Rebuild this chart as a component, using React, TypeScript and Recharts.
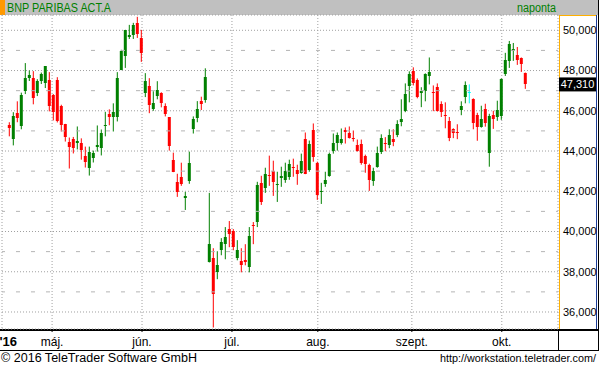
import React from "react";
import { Bar, CartesianGrid, ComposedChart, ReferenceLine, XAxis, YAxis } from "recharts";

// daily candles, 14 Apr 2016 .. 14 Oct 2016
const opens = [
  45.27, 44.58, 45.87, 45.23, 46.97, 47.62, 47.62, 46.87, 47.47, 47.37, 47.52, 46.77,
  47.52, 46.23, 45.32, 44.43, 44.62, 44.42, 44.42, 43.77, 43.18, 43.63, 44.22, 44.13,
  45.23, 45.82, 45.68, 45.68, 48.05, 48.73, 49.67, 49.77, 50.37, 49.62,
  46.87, 47.22, 46.07, 46.72, 46.87, 46.22, 45.67, 43.57, 42.47, 42.72, 41.67, 42.52,
  45.07, 45.62, 46.5, 46.54, 38.48, 38.67, 37.98, 39.07, 39.37, 40.12,
  40.02, 38.67, 38.52, 38.57, 38.22, 40.32, 40.47, 42.42, 42.17, 42.82, 43.02, 42.32,
  42.67, 42.57, 42.72, 43.22, 43.07, 42.92, 44.62, 43.07, 45.02,
  43.42, 42.0, 42.37, 42.77, 44.02, 44.42, 44.42, 45.02, 44.92, 44.67, 44.32, 44.37,
  43.77, 43.32, 42.52, 43.22, 43.94, 44.39, 44.29, 44.59, 44.79, 45.43, 45.98,
  47.21, 47.96, 47.51, 46.87, 46.97, 47.71, 46.92, 47.17, 46.32, 45.78, 45.49, 45.08,
  44.93, 46.02, 46.67, 46.92, 46.57, 45.8, 45.21, 46.1, 43.92, 45.8,
  45.7, 45.75, 47.83, 48.48, 48.98, 48.78, 48.63, 47.88
];
const highs = [
  45.43, 45.93, 46.47, 46.9, 48.37, 48.0, 47.97, 47.57, 47.9, 48.22, 47.92, 46.83,
  47.67, 46.3, 45.35, 44.67, 44.7, 45.22, 44.63, 44.22, 44.22, 44.02, 45.27, 45.07,
  45.95, 46.07, 46.37, 47.92, 49.03, 50.02, 50.27, 50.37, 50.67, 50.02,
  47.87, 47.62, 46.97, 47.47, 46.92, 46.37, 45.69, 43.92, 42.87, 43.42, 41.97, 43.97,
  45.72, 46.48, 46.7, 48.11, 41.92, 39.17, 39.02, 39.67, 40.22, 40.52,
  40.12, 39.57, 39.17, 39.37, 40.22, 40.47, 42.47, 42.77, 43.17, 43.77, 43.52, 42.97,
  43.22, 43.42, 43.57, 43.62, 43.32, 43.87, 44.92, 44.52, 45.37,
  43.47, 42.42, 42.97, 43.92, 44.87, 44.92, 45.12, 45.17, 45.22, 45.02, 44.57, 44.57,
  43.82, 43.37, 43.17, 44.22, 44.83, 44.69, 45.08, 45.08, 45.53, 46.57, 47.36,
  47.96, 48.16, 47.61, 47.17, 47.86, 48.65, 47.26, 47.36, 46.47, 46.42, 45.69, 45.13,
  45.33, 46.47, 47.46, 47.31, 46.62, 45.9, 46.25, 46.35, 45.85, 46.0,
  46.5, 47.61, 48.88, 49.47, 49.37, 49.17, 48.65, 47.9
];
const lows = [
  44.73, 44.28, 45.43, 45.08, 46.83, 47.48, 46.32, 46.73, 47.33, 47.13, 45.97, 45.52,
  45.42, 44.97, 44.47, 43.13, 43.88, 44.08, 43.57, 43.18, 42.78, 43.43, 43.97, 43.78,
  44.73, 45.28, 44.97, 45.47, 48.02, 48.13, 49.57, 49.57, 49.62, 48.43,
  46.68, 45.88, 46.0, 46.57, 46.17, 45.72, 44.02, 42.95, 41.72, 42.27, 41.07, 42.37,
  44.87, 45.43, 46.04, 46.4, 38.46, 35.23, 37.63, 38.82, 38.62, 39.22,
  39.07, 38.57, 37.97, 38.32, 37.97, 39.37, 40.22, 41.32, 41.92, 42.27, 41.77, 41.47,
  42.22, 42.42, 42.57, 42.72, 42.32, 42.87, 42.85, 42.97, 43.47,
  41.57, 41.37, 42.22, 42.72, 43.87, 44.02, 44.32, 44.37, 44.62, 44.47, 43.97, 43.32,
  42.92, 42.02, 42.27, 43.17, 43.85, 43.99, 44.14, 44.24, 44.69, 45.23, 45.93,
  46.42, 47.26, 46.62, 46.18, 46.47, 47.31, 45.98, 45.96, 45.69, 45.13, 44.49, 44.64,
  44.59, 45.78, 46.37, 46.37, 45.08, 44.51, 45.16, 45.21, 43.22, 45.1,
  45.5, 45.55, 47.73, 48.13, 48.48, 48.28, 47.93, 47.09
];
const closes = [
  45.13, 45.72, 45.63, 46.77, 47.62, 47.77, 46.63, 47.48, 47.85, 48.22, 46.23, 45.93,
  45.47, 45.28, 44.68, 44.22, 44.13, 44.52, 44.07, 43.43, 43.97, 43.88, 44.28, 44.92,
  45.27, 45.68, 45.93, 47.62, 48.98, 50.02, 49.77, 50.27, 49.82, 48.88,
  47.47, 46.27, 46.37, 47.02, 46.37, 45.82, 44.27, 42.97, 41.97, 42.37, 41.77, 43.42,
  45.57, 46.07, 46.34, 47.68, 39.37, 36.88, 38.32, 39.47, 39.72, 39.87,
  39.22, 39.07, 38.32, 38.47, 39.77, 40.27, 42.32, 41.47, 42.87, 42.77, 42.47, 42.37,
  42.77, 43.02, 43.37, 43.17, 42.87, 43.52, 42.87, 44.37, 43.72,
  41.82, 42.02, 42.57, 43.87, 44.42, 44.82, 44.62, 44.97, 44.67, 44.62, 44.02, 43.42,
  43.37, 42.57, 43.02, 43.92, 44.64, 44.34, 44.79, 44.44, 45.33, 45.58, 46.82,
  47.81, 47.36, 46.67, 46.97, 47.81, 47.91, 46.87, 45.98, 45.93, 45.73, 44.64, 44.88,
  44.9, 46.22, 47.26, 46.92, 45.38, 45.21, 45.6, 45.4, 45.75, 45.6,
  46.05, 47.59, 48.53, 49.32, 49.07, 48.53, 48.33, 47.31
];
const emptyDays = 7;

const monthTicks = [12.25, 34.25, 56.25, 77.25, 100.25, 122.25];
const monthLabels = ["máj.", "jún.", "júl.", "aug.", "szept.", "okt."];
const yearTick = -0.875;
const yearLabel = "'16";
const priceTicks = [36, 38, 40, 42, 44, 46, 48, 50];
const minorLines = [37, 39, 41, 43, 45, 47, 49];
const smallTicks = Array.from({ length: 63 }, (_, k) => 35.25 + k * 0.25);

const GREEN = "#008000";
const RED = "#ff0000";
const CYAN = "#00ffff";
const font = "'Liberation Sans', Arial, sans-serif";

const data = [
  ...opens.map((o, i) => ({ day: i + 1, open: o, high: highs[i], low: lows[i], close: closes[i], range: [lows[i], highs[i]] })),
  ...Array.from({ length: emptyDays }, (_, k) => ({ day: opens.length + k + 1 }))
];

const fmt = (v: number) => v.toFixed(3).replace(".", ",");

function Candle(props: any) {
  const { x, y, width, height, payload } = props;
  if (!payload || payload.open == null || !isFinite(y) || !isFinite(height)) return <g />;
  const { open, close, high, low } = payload;
  const ppv = height / (high - low);
  const cx = x + width / 2;
  const yOf = (v: number) => y + (high - v) * ppv;
  const top = Math.round(yOf(Math.max(open, close)));
  const bottom = Math.round(yOf(Math.min(open, close)));
  const color = close > open ? GREEN : close < open ? RED : CYAN;
  return (
    <g>
      <line x1={cx} x2={cx} y1={y} y2={y + height} stroke={color} strokeWidth={1} />
      <rect x={cx - 1.5} y={top} width={3} height={Math.max(1, bottom - top)} fill={color} />
    </g>
  );
}

function MonthTick(props: any) {
  const { x, y, payload } = props;
  if (payload.value === yearTick) {
    return (
      <text x={x + 1} y={y} dy="0.71em" textAnchor="start" fontSize={13} fontWeight="bold" fontFamily={font} fill="#000">
        {yearLabel}
      </text>
    );
  }
  const idx = monthTicks.indexOf(payload.value);
  return (
    <text x={x} y={y} dy="0.71em" textAnchor="middle" fontSize={12} fontFamily={font} fill="#000">
      {monthLabels[idx]}
    </text>
  );
}

function LastPrice(props: any) {
  const vb = props.viewBox;
  if (!vb) return null;
  const x = vb.x + vb.width + 1;
  const y = vb.y;
  return (
    <g>
      <rect x={x} y={y - 7} width={37} height={14} fill="#000" />
      <text x={x + 18.5} y={y} dy="0.36em" textAnchor="middle" fontSize={11} fontFamily={font} fill="#fff">
        {fmt(closes[closes.length - 1])}
      </text>
    </g>
  );
}

function Frame() {
  return (
    <svg width={599} height={368} style={{ position: "absolute", left: 0, top: 0 }}>
      <rect x={0} y={0} width={599} height={15} fill="#c0c0c0" />
      <rect x={0} y={0} width={5} height={15} fill="#ff9900" />
      <text x={7} y={12} fontSize={12} fontFamily={font} fill={GREEN} textLength={104} lengthAdjust="spacingAndGlyphs">
        BNP PARIBAS ACT.A
      </text>
      <text x={517} y={12} fontSize={12} fontFamily={font} fill={GREEN} textLength={39} lengthAdjust="spacingAndGlyphs">
        naponta
      </text>
      <line x1={559.5} x2={559.5} y1={15} y2={329} stroke="#ffb000" />
      <line x1={559} x2={597} y1={15.5} y2={15.5} stroke="#ffb000" />
      <line x1={596.5} x2={596.5} y1={15} y2={329} stroke="#1c3c96" />
      <line x1={598.5} x2={598.5} y1={0} y2={351} stroke="#000" />
      <rect x={0} y={329} width={599} height={2} fill="#000" />
      <line x1={0} x2={599} y1={350.5} y2={350.5} stroke="#000" />
      <line x1={558.5} x2={558.5} y1={331} y2={350} stroke="#000" />
      <text x={1} y={362} fontSize={12} fontFamily={font} fill="#000" textLength={196} lengthAdjust="spacingAndGlyphs">
        © 2016 TeleTrader Software GmbH
      </text>
      <text x={440} y={362} fontSize={11} fontFamily={font} fill="#000" textLength={156} lengthAdjust="spacingAndGlyphs">
        http://workstation.teletrader.com/
      </text>
    </svg>
  );
}

export default function App() {
  return (
    <div style={{ position: "relative", width: 599, height: 368, background: "#fff" }}>
      <style>{"body{margin:0}"}</style>
      <Frame />
      <div style={{ position: "absolute", left: 0, top: 0 }}>
        <ComposedChart
          width={599}
          height={368}
          data={data}
          margin={{ top: 15, right: 0, bottom: 18, left: 2 }}
          barCategoryGap={0}
          barGap={0}
        >
          <XAxis
            xAxisId="m"
            type="number"
            domain={[-0.875, 138.125]}
            allowDataOverflow
            ticks={[yearTick, ...monthTicks]}
            interval={0}
            height={21}
            axisLine={false}
            tickLine={{ stroke: "#000" }}
            tickSize={3}
            tickMargin={5}
            tick={<MonthTick />}
          />
          <XAxis xAxisId="c" dataKey="day" type="category" orientation="top" height={0} hide padding={{ left: 5.5, right: 2.5 }} />
          <YAxis
            yAxisId="p"
            orientation="right"
            width={41}
            domain={[35.155, 50.76]}
            allowDataOverflow
            ticks={priceTicks}
            interval={0}
            axisLine={false}
            tickLine={false}
            tickSize={0}
            tickMargin={5}
            tickFormatter={fmt}
            tick={{ fontSize: 11, fill: "#000", fontFamily: font }}
          />
          <YAxis yAxisId="tl" orientation="left" mirror width={0} domain={[35.155, 50.76]} allowDataOverflow ticks={smallTicks} interval={0} tick={false} axisLine={false} tickLine={{ stroke: "#000" }} tickSize={3} />
          <YAxis yAxisId="tr" orientation="right" mirror width={0} domain={[35.155, 50.76]} allowDataOverflow ticks={smallTicks} interval={0} tick={false} axisLine={false} tickLine={{ stroke: "#000" }} tickSize={3} />
          <CartesianGrid xAxisId="m" yAxisId="p" stroke="#a0a0a0" strokeDasharray="1 2" />
          {minorLines.map((v) => (
            <ReferenceLine key={v} xAxisId="m" yAxisId="p" y={v} stroke="#b4b4b4" strokeDasharray="4 11" strokeDashoffset={2} />
          ))}
          <Bar xAxisId="c" yAxisId="p" dataKey="range" barSize={4} shape={<Candle />} isAnimationActive={false} />
          <ReferenceLine xAxisId="m" yAxisId="p" y={closes[closes.length - 1]} stroke="none" label={(p: any) => <LastPrice {...p} />} />
        </ComposedChart>
      </div>
    </div>
  );
}
